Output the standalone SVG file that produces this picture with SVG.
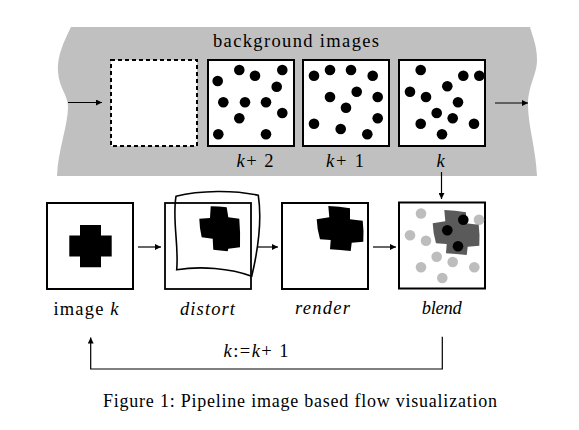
<svg xmlns="http://www.w3.org/2000/svg" width="579" height="430" viewBox="0 0 579 430">
<style>
text{font-family:"Liberation Serif",serif;fill:#000}
.lbl{font-size:18.5px}
.it{font-style:italic}
.box{fill:#fff;stroke:#000;stroke-width:2}
.dot{fill:#000}
.gdot{fill:#bdbdbd}
.ln{fill:none;stroke:#000;stroke-width:1.2}
</style>
<defs>
<marker id="ah" viewBox="0 0 10 10" refX="10" refY="5" markerWidth="7" markerHeight="6" markerUnits="userSpaceOnUse" orient="auto">
<path d="M0,0 L10,5 L0,10 Z" fill="#000"/>
</marker>
<circle id="d" r="5.3"/>
<path id="warpcross" d="M328.3,206 Q339,206.5 350,208.3 L350,219.3 Q356,220 362.7,220.7 Q364,231 363.3,241.7 L351.7,242.7 L350.7,251 Q340,250 330,249.3 L330.7,240 L320,239.3 Q317,229 316.7,219.3 L329.3,217.3 Z"/>
</defs>

<g id="band">
<path d="M71,27 C62,45 57,58 58,72 C59,88 68,95 68,107 C68,125 58,150 57,176 L537,176 C536,150 528,125 528,105 C528,85 537,75 537,60 C537,45 532,35 530,27 Z" fill="#c0c0c0"/>
<text class="lbl" x="213" y="47" textLength="166" lengthAdjust="spacing">background images</text>
</g>

<g id="bg-empty">
<rect x="111" y="60" width="86" height="86" fill="#fff" stroke="#000" stroke-width="2" stroke-dasharray="4,3"/>
</g>

<g id="bg-k2">
<rect class="box" x="208" y="60" width="86" height="86"/>
<g class="dot">
<use href="#d" x="239.3" y="70"/><use href="#d" x="255" y="75.7"/><use href="#d" x="282.3" y="70"/>
<use href="#d" x="217.7" y="81"/><use href="#d" x="276.7" y="86.7"/><use href="#d" x="223.3" y="102.3"/>
<use href="#d" x="245" y="102.3"/><use href="#d" x="266" y="102.3"/><use href="#d" x="282.3" y="113"/>
<use href="#d" x="239.3" y="118.3"/><use href="#d" x="218.3" y="134.3"/><use href="#d" x="266" y="134.3"/>
</g>
<text class="lbl" x="236.5" y="167" textLength="37" lengthAdjust="spacing"><tspan class="it">k</tspan>+ 2</text>
</g>

<g id="bg-k1">
<rect class="box" x="303" y="60" width="86" height="86"/>
<g class="dot">
<use href="#d" x="314" y="75.7"/><use href="#d" x="330" y="70"/><use href="#d" x="351" y="70"/>
<use href="#d" x="372.7" y="75.7"/><use href="#d" x="330" y="97"/><use href="#d" x="356.7" y="91.7"/>
<use href="#d" x="377.7" y="97"/><use href="#d" x="346" y="107.7"/><use href="#d" x="377.7" y="118.3"/>
<use href="#d" x="314" y="123.7"/><use href="#d" x="340.7" y="129"/><use href="#d" x="367.3" y="134.3"/>
</g>
<text class="lbl" x="326" y="167" textLength="38" lengthAdjust="spacing"><tspan class="it">k</tspan>+ 1</text>
</g>

<g id="bg-k">
<rect class="box" x="399" y="60" width="86" height="86"/>
<g class="dot">
<use href="#d" x="420.7" y="70"/><use href="#d" x="463.3" y="75.7"/><use href="#d" x="479.3" y="75.7"/>
<use href="#d" x="447.3" y="86.3"/><use href="#d" x="410" y="91.7"/><use href="#d" x="426" y="97"/>
<use href="#d" x="458" y="102.3"/><use href="#d" x="436.7" y="113"/><use href="#d" x="452.7" y="118.3"/>
<use href="#d" x="420.7" y="123.7"/><use href="#d" x="474" y="123.7"/><use href="#d" x="442" y="134.3"/>
</g>
<text class="lbl it" x="440.5" y="167" text-anchor="middle">k</text>
</g>

<g id="image-k">
<rect class="box" x="47" y="203" width="86" height="86"/>
<path d="M80,225 H101 V235.5 H111.7 V256.5 H101 V267.3 H80 V256.5 H69.3 V235.5 H80 Z" fill="#000"/>
<text class="lbl" x="53.5" y="315" textLength="65" lengthAdjust="spacing">image <tspan class="it">k</tspan></text>
</g>

<g id="distort">
<rect x="165" y="203" width="86" height="86" fill="#fff" stroke="#000" stroke-width="1.8"/>
<path d="M176,196.3 C200,190 235,190 258.3,195.3 C262,220 258,250 251.7,276.3 C230,268 200,266 176.7,269.7 C179,245 172,220 176,196.3 Z" fill="none" stroke="#000" stroke-width="1.6"/>
<path d="M210.7,206.3 Q219,206.5 226.7,207.3 L228.3,217.3 L239.3,218.7 Q240.5,233 240,247.3 L228.3,248.7 L227.7,251.3 Q220,250.5 213.3,249.7 L212.7,238.7 L201.7,237.3 Q199.5,228 199.3,218.7 L210,218 Z" fill="#000"/>
<text class="lbl it" x="180" y="315" textLength="55" lengthAdjust="spacing">distort</text>
</g>

<g id="render">
<rect class="box" x="282" y="203" width="86" height="86"/>
<use href="#warpcross" fill="#000"/>
<text class="lbl it" x="295" y="313.5" textLength="55" lengthAdjust="spacing">render</text>
</g>

<g id="blend">
<rect class="box" x="399" y="202.5" width="86" height="86"/>
<g class="gdot">
<use href="#d" x="421" y="213.5"/><use href="#d" x="479" y="219.7"/><use href="#d" x="410" y="235.3"/>
<use href="#d" x="426" y="240.7"/><use href="#d" x="436.7" y="256.7"/><use href="#d" x="452.7" y="262"/>
<use href="#d" x="421" y="267.3"/><use href="#d" x="474.3" y="267.3"/><use href="#d" x="442.3" y="278"/>
</g>
<use href="#warpcross" fill="#5a5a5a" transform="translate(116,4)"/>
<g class="dot">
<use href="#d" x="463.3" y="219.7"/><use href="#d" x="447.3" y="230.3"/><use href="#d" x="458" y="246.3"/>
</g>
<text class="lbl it" x="421.7" y="313.5" textLength="40" lengthAdjust="spacing">blend</text>
</g>

<g id="connectors">
<line class="ln" x1="68" y1="102.5" x2="102" y2="102.5" marker-end="url(#ah)"/>
<line class="ln" x1="495" y1="103" x2="528" y2="103" marker-end="url(#ah)"/>
<line class="ln" x1="441.5" y1="172" x2="441.5" y2="199" marker-end="url(#ah)"/>
<line class="ln" x1="138" y1="247" x2="161" y2="247" marker-end="url(#ah)"/>
<line class="ln" x1="257" y1="247" x2="278" y2="247" marker-end="url(#ah)"/>
<line class="ln" x1="373" y1="247" x2="396" y2="247" marker-end="url(#ah)"/>
<path class="ln" d="M442.3,336.7 V369 H90.7 V337.5" marker-end="url(#ah)"/>
<text class="lbl" x="223.5" y="357" textLength="65" lengthAdjust="spacing"><tspan class="it">k</tspan>:=<tspan class="it">k</tspan>+ 1</text>
</g>

<text id="caption" x="103" y="407" font-size="18" textLength="394" lengthAdjust="spacing">Figure 1: Pipeline image based flow visualization</text>
</svg>
